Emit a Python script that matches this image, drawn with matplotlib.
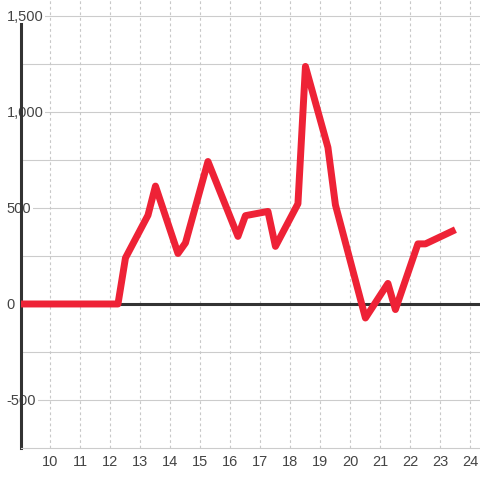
import matplotlib.pyplot as plt

# hourly values
hours = [9.0, 12.25, 12.5, 13.25, 13.5, 14.25, 14.5, 15.25, 16.25, 16.5,
         17.25, 17.5, 18.25, 18.5, 19.25, 19.5, 20.5, 21.25, 21.5, 22.25,
         22.5, 23.5]
values = [0, 0, 240, 462, 614, 263, 318, 742, 352, 460,
          482, 300, 522, 1237, 815, 516, -73, 107, -29, 313,
          313, 387]

x_ticks = list(range(10, 25))
y_ticks = [-750, -500, -250, 0, 250, 500, 750, 1000, 1250, 1500]
y_labels = ['', '-500', '', '0', '', '500', '', '1,000', '', '1,500']

plt.rcParams['font.family'] = ['Liberation Sans', 'DejaVu Sans']

fig = plt.figure(figsize=(4.8, 4.8), dpi=100)
ax = fig.add_axes([20.5 / 480, 32 / 480, 459.5 / 480, 448 / 480])
fig.patch.set_facecolor('white')

ax.set_xlim(9, 24.32)
ax.set_ylim(-750, 1583)

# grid
for y in y_ticks[1:]:
    ax.axhline(y, color='#cccccc', lw=0.8, zorder=1)
for x in x_ticks:
    ax.axvline(x, color='#c8c8c8', lw=0.8, ls=(0, (2.5, 2.5)), zorder=1)

ax.axhline(0, color='#333333', lw=2.2, zorder=2)

ax.plot(hours, values, color='#ee2236', lw=5, zorder=3,
        solid_joinstyle='round', solid_capstyle='butt')

for s in ['top', 'right']:
    ax.spines[s].set_visible(False)
ax.spines['bottom'].set_color('#cccccc')
ax.spines['bottom'].set_linewidth(0.8)
ax.spines['left'].set_color('#333333')
ax.spines['left'].set_linewidth(2.2)
ax.spines['left'].set_bounds(-750, 1458)
ax.spines['left'].set_zorder(2.5)

ax.set_xticks(x_ticks)
ax.set_xticklabels([str(x) for x in x_ticks])
ax.set_yticks(y_ticks)
ax.set_yticklabels(y_labels)
ax.tick_params(axis='both', length=0, labelsize=10.5, labelcolor='#444444')
ax.tick_params(axis='x', pad=5)
ax.tick_params(axis='y', pad=10)
for lab in ax.get_yticklabels():
    lab.set_horizontalalignment('left')
    lab.set_bbox(dict(facecolor='white', edgecolor='none', pad=1))
    lab.set_zorder(5)

fig.savefig('out.png', dpi=100)
